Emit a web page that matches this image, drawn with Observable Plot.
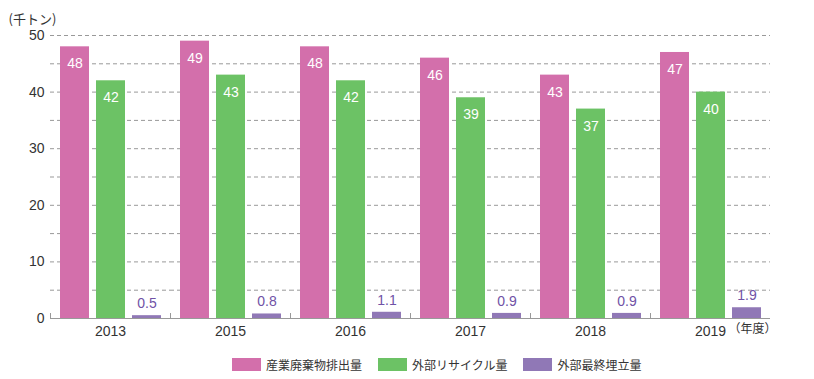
<!DOCTYPE html>
<html>
<head>
<meta charset="utf-8">
<script src="https://cdn.jsdelivr.net/npm/d3@7"></script>
<script src="https://cdn.jsdelivr.net/npm/@observablehq/plot@0.6"></script>
<style>
  body { margin: 0; background: #fff; font-family: "Liberation Sans", "Noto Sans CJK JP", sans-serif; }
  #legend { display: flex; align-items: center; margin-left: 232px; margin-top: 13px; font-size: 12px; line-height: 13px; color: #333; font-family: "Noto Sans CJK JP", sans-serif; }
  .item { display: flex; align-items: center; margin-right: 16px; }
  .sw { width: 29px; height: 13px; margin-right: 5px; }
</style>
</head>
<body>
<div id="chart"></div>
<div id="legend"></div>
<script>
const years = ["2013", "2015", "2016", "2017", "2018", "2019"];
const seriesNames = ["産業廃棄物排出量", "外部リサイクル量", "外部最終埋立量"];
const discharge = [48, 49, 48, 46, 43, 47];
const recycled = [42, 43, 42, 39, 37, 40];
const landfill = [0.5, 0.8, 1.1, 0.9, 0.9, 1.9];
const colors = ["#d36fab", "#6cc265", "#9078b6"];
const yTicks = [0, 10, 20, 30, 40, 50];
const gridTicks = [5, 10, 15, 20, 25, 30, 35, 40, 45, 50];
const yUnit = "(千トン)";
const xUnit = "（年度）";

const valuesBySeries = [discharge, recycled, landfill];
const data = [];
years.forEach((yr, i) => {
  seriesNames.forEach((s, j) => data.push({year: yr, series: s, value: valuesBySeries[j][i], idx: j}));
});

const W = 814, H = 345, mL = 50, mR = 44, mT = 35, mB = 27;
const halfBand = (W - mL - mR) / years.length / 2;
const font = '"Liberation Sans", "Noto Sans CJK JP", sans-serif';
const jpFont = '"Noto Sans CJK JP", sans-serif';

const chart = Plot.plot({
  width: W,
  height: H,
  marginLeft: mL,
  marginRight: mR,
  marginTop: mT,
  marginBottom: mB,
  style: {fontFamily: font, color: "#333", background: "#fff"},
  fx: {domain: years, paddingInner: 0, paddingOuter: 0},
  x: {domain: seriesNames, paddingInner: 0.2, paddingOuter: 0.25, axis: null},
  y: {domain: [0, 50]},
  color: {domain: seriesNames, range: colors},
  marks: [
    Plot.gridY(gridTicks, {stroke: "#999", strokeOpacity: 1, strokeDasharray: "4,3"}),
    Plot.barY(data, {fx: "year", x: "series", y: "value", fill: "series"}),
    Plot.ruleY([0], {stroke: "#999"}),
    Plot.text(data.filter(d => d.idx < 2), {fx: "year", x: "series", y: "value", text: d => String(d.value), fill: "#fff", dy: 17, fontSize: 14}),
    Plot.text(data.filter(d => d.idx === 2), {fx: "year", x: "series", y: "value", text: d => String(d.value), fill: "#7052a6", dy: -12, fontSize: 14}),
    Plot.axisY({ticks: yTicks, tickSize: 0, tickPadding: 6, fontSize: 14, line: true, stroke: "#888", color: "#333", label: null}),
    Plot.axisFx({anchor: "bottom", tickSize: 0, tickPadding: 8, fontSize: 14, label: null}),
    Plot.axisFx({anchor: "bottom", tickSize: -5, dx: -halfBand, tickFormat: () => "", label: null, stroke: "#999"}),
    Plot.text([yUnit], {fx: [years[0]], frameAnchor: "top-left", textAnchor: "start", lineAnchor: "bottom", dx: -mL + 8, dy: -12, fontSize: 13, fill: "#333", fontFamily: jpFont}),
    Plot.text([xUnit], {fx: [years[years.length - 1]], frameAnchor: "bottom-right", textAnchor: "end", lineAnchor: "top", dx: 6, dy: 6, fontSize: 12, fill: "#333", fontFamily: jpFont})
  ]
});
document.getElementById("chart").appendChild(chart);

const legend = document.getElementById("legend");
seriesNames.forEach((s, j) => {
  const it = document.createElement("div");
  it.className = "item";
  const sw = document.createElement("span");
  sw.className = "sw";
  sw.style.background = colors[j];
  const tx = document.createElement("span");
  tx.textContent = s;
  it.appendChild(sw);
  it.appendChild(tx);
  legend.appendChild(it);
});
</script>
</body>
</html>
